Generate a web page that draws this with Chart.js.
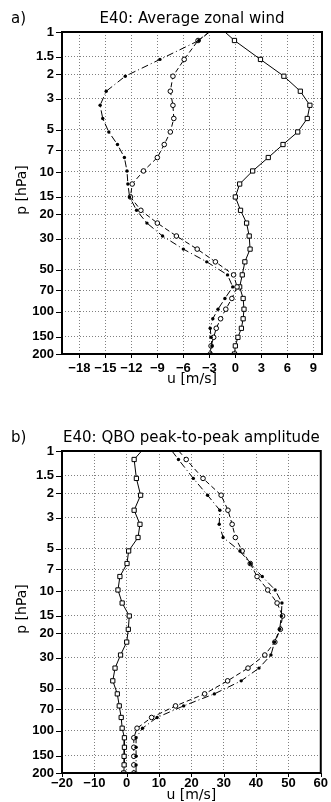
<!DOCTYPE html>
<html>
<head>
<meta charset="utf-8">
<script src="https://cdn.jsdelivr.net/npm/chart.js@4.4.1/dist/chart.umd.min.js"></script>
<style>
  body { margin: 0; background: #fff; }
  .panel { position: absolute; left: 0; width: 331px; }
</style>
</head>
<body>
<div class="panel" style="top:0;height:400px"><canvas id="chart-a" width="331" height="400"></canvas></div>
<div class="panel" style="top:400px;height:402px"><canvas id="chart-b" width="331" height="402"></canvas></div>
<script>
// Pressure levels (hPa) of the profiles
const levels = [1, 1.15, 1.57, 2.07, 2.65, 3.34, 4.15, 5.18, 6.37, 7.89, 9.84, 12.2, 15.1, 18.8, 23.2, 28.7, 35.6, 43.9, 54.4, 66.3, 80.2, 95.7, 112, 131, 152, 175, 200]

// Tick labels
const pTicks = [1, 1.5, 2, 3, 5, 7, 10, 15, 20, 30, 50, 70, 100, 150, 200]
const uTicksA = [-18, -15, -12, -9, -6, -3, 0, 3, 6, 9]
const uTicksB = [-20, -10, 0, 10, 20, 30, 40, 50, 60]

// a) Average zonal wind (m/s)
const meanSquaresA = [-1.2, -0.1, 2.9, 5.6, 7.5, 8.6, 8.3, 7.2, 5.5, 3.8, 2.0, 0.5, 0.0, 0.6, 1.3, 1.6, 1.7, 1.1, 0.8, 0.5, 0.9, 1.0, 0.9, 0.7, 0.3, 0.0, -0.1]
const meanCirclesA = [-3.0, -4.3, -5.9, -7.2, -7.5, -7.2, -7.1, -7.5, -8.2, -9.0, -10.6, -11.9, -12.1, -10.9, -9.0, -6.8, -4.4, -2.3, -0.2, 0.2, -0.4, -1.1, -1.7, -2.2, -2.5, -2.8, -2.9]
const meanDotsA = [-3.0, -4.2, -8.7, -12.7, -14.9, -15.6, -15.3, -14.6, -13.6, -12.8, -12.5, -12.4, -12.2, -11.4, -10.2, -8.4, -6.0, -3.3, -0.9, -0.3, -1.2, -2.0, -2.6, -2.9, -2.8, -2.7, -2.8]

// b) QBO peak-to-peak amplitude (m/s)
const ampSquaresB = [4.6, 2.3, 3.0, 4.3, 2.3, 4.1, 3.5, 0.6, 0.1, -2.1, -2.7, -1.4, 0.8, 0.5, 0.0, -1.9, -3.6, -4.3, -2.9, -2.3, -1.7, -1.4, -0.7, -0.7, -0.8, -0.8, -0.9]
const ampCirclesB = [16.1, 18.4, 23.6, 29.2, 31.3, 32.6, 33.6, 35.7, 38.2, 40.3, 43.6, 46.5, 48.2, 47.5, 45.8, 42.7, 37.5, 31.2, 24.1, 15.1, 7.7, 3.2, 2.2, 2.2, 2.2, 2.2, 2.2]
const ampDotsB = [14.0, 16.0, 20.6, 25.0, 28.8, 28.6, 29.8, 35.0, 38.2, 41.9, 45.9, 48.0, 47.8, 47.3, 45.7, 44.6, 40.9, 35.4, 27.1, 17.6, 9.4, 4.9, 2.9, 2.9, 2.9, 2.9, 2.9]

const tickFont = { family: "'Liberation Sans', Arial, sans-serif", size: 13, weight: "bold" }
const textFont = "15px 'DejaVu Sans', sans-serif"

function profile(values) {
  return values.map((u, i) => ({ x: u, y: levels[i] }))
}

// no marker on the top level
function markerSize(r) {
  return (ctx) => (ctx.dataIndex === 0 ? 0 : r)
}

function minusLabel(v) {
  return v < 0 ? "\u2212" + Math.abs(v) : String(v)
}

function makeDatasets(squares, circles, dots) {
  return [
    {
      data: profile(squares),
      borderColor: "#000",
      borderWidth: 1,
      pointStyle: "rect",
      pointRadius: markerSize(3),
      pointBackgroundColor: "#fff",
      pointBorderColor: "#000",
      pointBorderWidth: 1,
      order: 2,
    },
    {
      data: profile(circles),
      borderColor: "#000",
      borderWidth: 1,
      borderDash: [5, 3],
      pointStyle: "circle",
      pointRadius: markerSize(2.3),
      pointBackgroundColor: "#fff",
      pointBorderColor: "#000",
      pointBorderWidth: 1,
      order: 1,
    },
    {
      data: profile(dots),
      borderColor: "#000",
      borderWidth: 1,
      borderDash: [7, 3, 1, 3],
      pointStyle: "circle",
      pointRadius: markerSize(1.7),
      pointBackgroundColor: "#000",
      pointBorderColor: "#000",
      pointBorderWidth: 0,
      order: 0,
    },
  ]
}

// Frame, tick marks and the texts around the plot
function decorations(letter, title, xTicks, xLabelY) {
  return {
    id: "decorations",
    afterDraw(chart) {
      const { ctx, chartArea: a, scales } = chart
      ctx.save()
      ctx.strokeStyle = "#000"
      ctx.lineWidth = 1
      ctx.beginPath()
      pTicks.forEach((p) => {
        const y = Math.round(scales.y.getPixelForValue(p)) + 0.5
        ctx.moveTo(a.left - 6, y)
        ctx.lineTo(a.left, y)
      })
      xTicks.forEach((u) => {
        const x = Math.round(scales.x.getPixelForValue(u)) + 0.5
        ctx.moveTo(x, a.bottom)
        ctx.lineTo(x, a.bottom + 4)
      })
      ctx.stroke()
      ctx.lineWidth = 2
      ctx.strokeRect(a.left, a.top, a.right - a.left, a.bottom - a.top)

      ctx.fillStyle = "#000"
      ctx.font = textFont
      ctx.textBaseline = "middle"
      ctx.textAlign = "left"
      ctx.fillText(letter, 11, a.top - 13)
      ctx.textAlign = "center"
      ctx.fillText(title, (a.left + a.right) / 2, a.top - 13)
      ctx.font = "14px 'DejaVu Sans', sans-serif"
      ctx.fillText("u [m/s]", (a.left + a.right) / 2, xLabelY)
      ctx.translate(22, (a.top + a.bottom) / 2 - 3)
      ctx.rotate(-Math.PI / 2)
      ctx.fillText("p [hPa]", 0, 0)
      ctx.restore()
    },
  }
}

function makeChart(canvas, cfg) {
  return new Chart(canvas.getContext("2d"), {
    type: "scatter",
    data: { datasets: makeDatasets(cfg.squares, cfg.circles, cfg.dots) },
    options: {
      responsive: false,
      animation: false,
      showLine: true,
      layout: { padding: { left: 0, right: 9, top: cfg.top, bottom: 0 } },
      plugins: { legend: { display: false }, tooltip: { enabled: false } },
      scales: {
        x: {
          type: "linear",
          min: cfg.xMin,
          max: cfg.xMax,
          afterBuildTicks: (s) => {
            s.ticks = cfg.xTicks.map((v) => ({ value: v }))
          },
          afterFit: (s) => {
            s.height = cfg.xHeight
          },
          grid: { color: "#808080", drawTicks: false },
          border: { display: false, dash: [1, 2] },
          ticks: { callback: minusLabel, font: tickFont, color: "#000", padding: cfg.xPad, maxRotation: 0, autoSkip: false },
        },
        y: {
          type: "logarithmic",
          reverse: true,
          min: 1,
          max: 200,
          afterBuildTicks: (s) => {
            s.ticks = pTicks.map((v) => ({ value: v }))
          },
          afterFit: (s) => {
            s.width = 62
          },
          grid: { color: "#808080", drawTicks: false },
          border: { display: false, dash: [1, 2] },
          ticks: { callback: (v) => String(v), font: tickFont, color: "#000", padding: 8, autoSkip: false },
        },
      },
    },
    plugins: [decorations(cfg.letter, cfg.title, cfg.xTicks, cfg.xLabelY)],
  })
}

makeChart(document.getElementById("chart-a"), {
  letter: "a)",
  title: "E40: Average zonal wind",
  squares: meanSquaresA,
  circles: meanCirclesA,
  dots: meanDotsA,
  xMin: -20,
  xMax: 10,
  xTicks: uTicksA,
  top: 32,
  xHeight: 46,
  xPad: 7,
  xLabelY: 379,
})

makeChart(document.getElementById("chart-b"), {
  letter: "b)",
  title: "E40: QBO peak-to-peak amplitude",
  squares: ampSquaresB,
  circles: ampCirclesB,
  dots: ampDotsB,
  xMin: -20,
  xMax: 60,
  xTicks: uTicksB,
  top: 51,
  xHeight: 29,
  xPad: 3,
  xLabelY: 395,
})
</script>
</body>
</html>
